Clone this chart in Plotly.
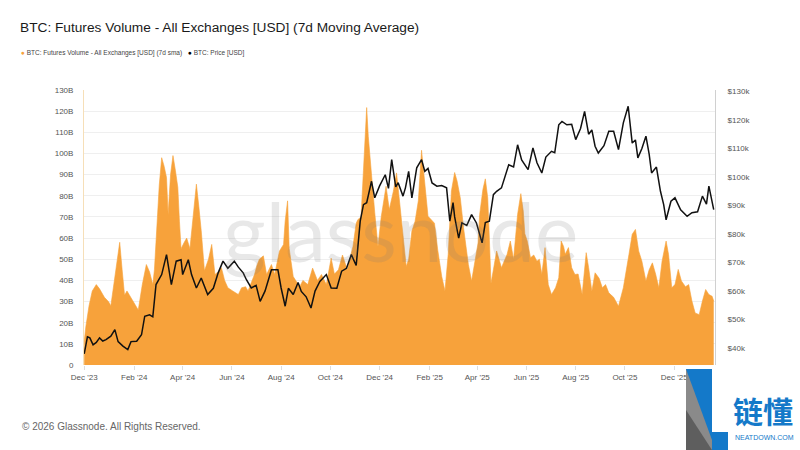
import plotly.graph_objects as go
import pandas as pd

START = pd.Timestamp("2023-12-01")

# Futures volume (7d sma), billions USD, sampled at day offsets from START
vol_days = [0,2,6,10,15,19,25,30,33,38,41,44,47,50,53,56,61,67,72,77,81,85,87,90,93,96,99,102,104,107,110,113,116,118,120,124,127,131,135,139,142,145,149,154,158,162,166,170,174,178,184,191,195,200,203,208,211,214,217,222,226,232,236,242,247,249,252,254,259,267,271,277,283,289,294,300,306,310,315,320,326,333,337,339,343,346,348,350,352,356,360,364,368,374,378,383,387,390,393,396,399,402,406,410,414,418,422,426,430,434,438,443,447,451,455,459,462,466,470,476,480,484,488,490,494,497,500,502,504,507,511,517,524,528,532,537,541,544,546,549,553,557,561,564,567,571,575,579,584,588,591,594,596,600,604,608,612,617,622,625,629,633,638,642,646,650,656,662,668,675,679,683,687,691,696,700,704,708,712,716,721,724,728,732,736,740,745,749,753,757,762,766,770,774,778,780]
vol_bn = [11,18,28,35,38,36,32,30,28,42,52,58,45,33,35,33,30,26,38,47.5,44,38,45,68,85,98,94,88.6,71,90,99,92,84,68,55,58,60,55,70,85.5,75,63.5,44.5,50,57,42.8,44,46,40,36.5,35,33.3,36.5,37,35,40,42.8,47,50,51.6,42.8,47.5,42.8,53.9,57,68,77.6,55,41.8,37,40,38,45.8,40,42.8,38,50.5,43,45,52,45,56,67,68.7,70,92,111,121.7,108,89,72,56,70,84.5,73.5,82,90.8,80,68.7,55,46.6,50,63.3,68,77.6,101.5,84.5,70.3,68.7,67,54.5,41.8,35,52.3,82.3,91,87,79,65,47.5,39.7,49.1,57.7,71.2,83,88,79,60,38.5,45,53.9,46,52.3,58.6,50,71.2,81,72.8,62,58.6,50.7,52,49.1,50,42.8,55.5,38,33.3,36.5,41.2,58.6,56,52.3,55.5,46,42.8,43,33.3,53.1,46,34.9,43.6,41,36.5,38,34.1,32,27.8,36.5,52.3,61.8,64.1,53.9,49.1,39.7,45,48.3,43,36.5,49.1,58.6,52.3,36.5,38,45.2,39.7,37,38,30.2,24.6,23.8,30.2,35.7,33.3,32.5,30.2]

# BTC price, thousands USD, sampled at day offsets from START
price_days = [0,4,7,11,15,19,23,27,33,38,42,48,54,58,65,71,75,81,85,89,96,102,108,114,120,122,129,133,139,145,153,160,166,172,178,186,191,197,201,207,213,218,224,232,240,244,249,253,259,265,269,275,281,286,292,300,306,313,319,325,331,337,342,346,350,356,360,366,373,377,381,386,389,395,398,402,406,412,418,422,426,431,437,443,449,453,457,459,464,468,474,480,486,493,497,502,507,511,517,526,532,537,542,550,556,561,567,572,579,583,588,592,598,604,609,615,620,625,629,633,637,644,650,656,662,668,674,679,683,686,691,696,700,703,709,714,718,721,727,732,739,747,753,760,766,771,774,778,780]
price_k = [38,44,43.6,41.2,42,43.6,42.5,43,44.2,46.5,42.3,40.7,39.5,42.3,42.4,44.7,51.2,51.7,51,62.3,65.8,72.8,62.3,70.5,71,65.8,71,65.8,61.1,64.6,58.8,61,66.4,70.5,68,70.5,68.4,66.4,64,61.1,62,56.4,60,67.5,67.5,61.1,54.7,61,58.8,63,59.9,58,54.1,60,63.4,65.8,61.1,61,67,68,72.8,69,84.5,90.3,91,98.5,92.7,96.9,100.8,96,106.1,96.5,98,93.3,96.2,102,92.7,103.2,106.1,102,103,97.9,96.8,97,96.2,84.5,91,86,78.6,83.9,83,86.8,83.9,76.9,84,84.5,93.8,95,96.2,104.3,103.5,111.3,106,102.6,110.2,105,101.4,107,109,108.5,118.3,119.5,118.3,118.5,113.1,117,123,115,116.5,110.8,108.4,111,116,116,109.6,119,124.8,111.9,113,106.7,110,114.3,108,101.4,103.5,95,90.3,85,91.5,92.7,88.5,86.2,87.5,87.8,93.3,90.5,96.8,92,88.6]

x_tick_dates = ["2023-12-01","2024-02-01","2024-04-01","2024-06-01","2024-08-01","2024-10-01",
                "2024-12-01","2025-02-01","2025-04-01","2025-06-01","2025-08-01","2025-10-01","2025-12-01"]
x_tick_text = ["Dec '23","Feb '24","Apr '24","Jun '24","Aug '24","Oct '24",
               "Dec '24","Feb '25","Apr '25","Jun '25","Aug '25","Oct '25","Dec '25"]
vol_tick_vals = [0,10,20,30,40,50,60,70,80,90,100,110,120,130]
vol_tick_text = ["0","10B","20B","30B","40B","50B","60B","70B","80B","90B","100B","110B","120B","130B"]
price_tick_vals = [40,50,60,70,80,90,100,110,120,130]
price_tick_text = ["$40k","$50k","$60k","$70k","$80k","$90k","$100k","$110k","$120k","$130k"]

ORANGE = "#F7A23B"
BLUE = "#1479c9"
FONT = "Arial, Liberation Sans, Helvetica, sans-serif"

vol_dates = START + pd.to_timedelta(vol_days, unit="D")
price_dates = START + pd.to_timedelta(price_days, unit="D")

# plot area in pixels
L, R, T, B = 84, 715, 90, 365
W, H = 800, 450
def px(x):
    return (x - L) / (R - L)
def py(y):
    return (B - y) / (B - T)

fig = go.Figure()
fig.add_trace(go.Scatter(x=vol_dates, y=vol_bn, mode="lines", fill="tozeroy",
                         fillcolor=ORANGE, line=dict(color=ORANGE, width=0.6),
                         name="BTC: Futures Volume - All Exchanges [USD] (7d sma)", yaxis="y"))
fig.add_trace(go.Scatter(x=price_dates, y=price_k, mode="lines",
                         line=dict(color="#111111", width=1.5),
                         name="BTC: Price [USD]", yaxis="y2"))

fig.update_layout(
    width=W, height=H, autosize=False,
    margin=dict(l=L, r=W - R, t=T, b=H - B, pad=0),
    paper_bgcolor="white", plot_bgcolor="white",
    showlegend=False,
    font=dict(family=FONT, color="#555555", size=8),
    title=dict(text="BTC: Futures Volume - All Exchanges [USD] (7d Moving Average)",
               xref="container", yref="container", x=20 / W, y=1 - 27 / H,
               xanchor="left", yanchor="middle",
               font=dict(family=FONT, size=13.7, color="#1a1a1a")),
    xaxis=dict(type="date", range=["2023-11-30 18:00", "2026-01-20 14:00"],
               tickvals=x_tick_dates, ticktext=x_tick_text, showgrid=False,
               ticks="outside", ticklen=4, tickcolor="#dddddd", tickfont=dict(size=8, color="#555555"),
               showline=False, zeroline=False),
    yaxis=dict(range=[0, 130], tickvals=vol_tick_vals, ticktext=vol_tick_text,
               showgrid=True, gridcolor="#efefef", gridwidth=1, zeroline=False,
               showline=True, linecolor="#f6dfb8", linewidth=1,
               ticks="", ticklabelstandoff=8, tickfont=dict(size=8, color="#555555")),
    yaxis2=dict(range=[34.1, 130.5], overlaying="y", side="right",
                tickvals=price_tick_vals, ticktext=price_tick_text,
                showgrid=False, zeroline=False, showline=True, linecolor="#d0d0d0", linewidth=1,
                ticks="", ticklabelstandoff=10, tickfont=dict(size=8, color="#555555")),
)

ann = []
# legend
ann.append(dict(xref="paper", yref="paper", x=px(19), y=py(53.5), xanchor="left", yanchor="middle",
                text=f'<span style="color:{ORANGE}">●</span> BTC: Futures Volume - All Exchanges [USD] (7d sma)',
                showarrow=False, font=dict(family=FONT, size=6.5, color="#444444")))
ann.append(dict(xref="paper", yref="paper", x=px(186), y=py(53.5), xanchor="left", yanchor="middle",
                text='<span style="color:#000000">●</span> BTC: Price [USD]',
                showarrow=False, font=dict(family=FONT, size=6.5, color="#444444")))
# watermark
ann.append(dict(xref="paper", yref="paper", x=px(400), y=py(230), xanchor="center", yanchor="middle",
                text="glassnode", showarrow=False,
                font=dict(family="Lato, Arial, sans-serif", size=82, color="rgba(120,120,120,0.17)")))
# footer
ann.append(dict(xref="paper", yref="paper", x=px(20), y=py(426), xanchor="left", yanchor="middle",
                text="© 2026 Glassnode. All Rights Reserved.", showarrow=False,
                font=dict(family=FONT, size=10, color="#666666")))
# logo text
ann.append(dict(xref="paper", yref="paper", x=px(763), y=py(410), xanchor="center", yanchor="middle",
                text="<b>链懂</b>", showarrow=False,
                font=dict(family="Noto Sans CJK SC", size=30, color=BLUE)))
ann.append(dict(xref="paper", yref="paper", x=px(764), y=py(437), xanchor="center", yanchor="middle",
                text="NEATDOWN.COM", showarrow=False,
                font=dict(family=FONT, size=7, color=BLUE)))
fig.update_layout(annotations=ann)

# logo mark (L shape): gray lower-left half and blue upper-right half of the stem, blue foot
def path(pts):
    return "M " + " L ".join(f"{px(a)},{py(b)}" for a, b in pts) + " Z"
shapes = [
    dict(type="path", xref="paper", yref="paper", path=path([(686, 369), (712, 369), (712, 450), (686, 450)]),
         fillcolor="#8a8a8a", line=dict(width=0), layer="above"),
    dict(type="path", xref="paper", yref="paper", path=path([(686, 369), (712, 369), (712, 440)]),
         fillcolor=BLUE, line=dict(width=0), layer="above"),
    dict(type="path", xref="paper", yref="paper", path=path([(686, 410), (712, 450), (686, 450)]),
         fillcolor="#5e5e5e", line=dict(width=0), layer="above"),
    dict(type="path", xref="paper", yref="paper", path=path([(712, 432), (728, 432), (728, 450), (712, 450)]),
         fillcolor=BLUE, line=dict(width=0), layer="above"),
]
fig.update_layout(shapes=shapes)

fig.write_html("out.html")
